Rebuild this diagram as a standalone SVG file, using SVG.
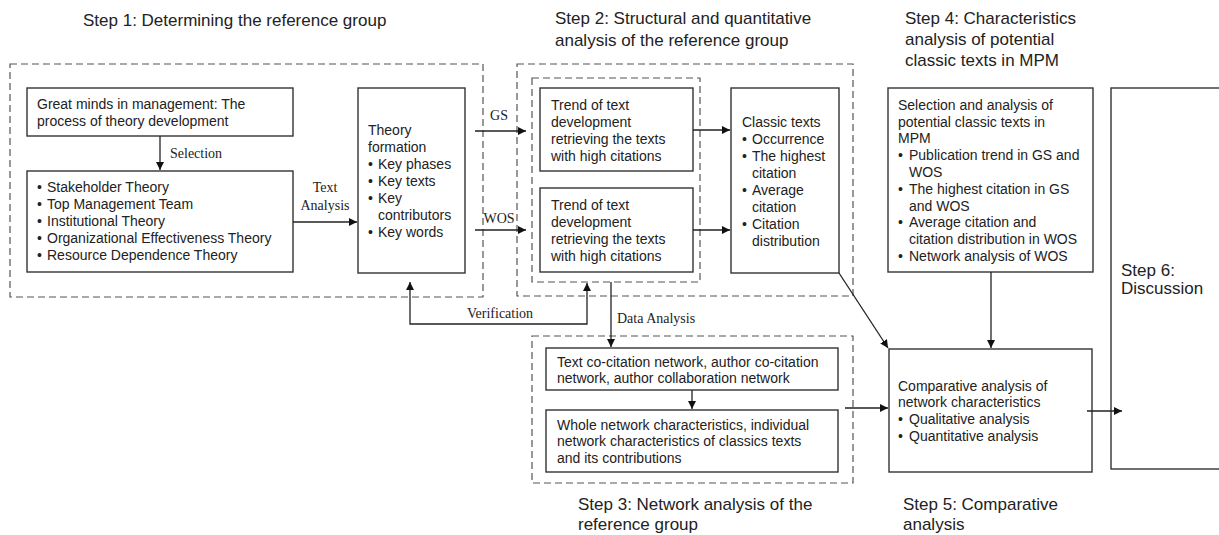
<svg xmlns="http://www.w3.org/2000/svg" width="1219" height="535" viewBox="0 0 1219 535">
<defs>
<marker id="ah" viewBox="0 0 10 10" refX="10" refY="5" markerWidth="8" markerHeight="8" markerUnits="userSpaceOnUse" orient="auto-start-reverse">
<path d="M0,0 L10,5 L0,10 Z" fill="#111"/>
</marker>
</defs>
<style>
.box{fill:#fff;stroke:#333;stroke-width:1.4}
.dash{fill:none;stroke:#555;stroke-width:1.2;stroke-dasharray:7,4}
.t{font-family:"Liberation Sans",Arial,sans-serif;font-size:14px;fill:#222}
.s{font-family:"Liberation Sans",Arial,sans-serif;font-size:17px;fill:#222}
.lab{font-family:"Liberation Serif","Times New Roman",serif;font-size:14px;fill:#222}
.c{fill:none;stroke:#222;stroke-width:1.3}
</style>
<rect width="1219" height="535" fill="#fff"/>

<g id="step-labels">
<text class="s" x="83" y="26">Step 1: Determining the reference group</text>
<text class="s" x="555" y="24">Step 2: Structural and quantitative</text>
<text class="s" x="555" y="46">analysis of the reference group</text>
<text class="s" x="905" y="24">Step 4: Characteristics</text>
<text class="s" x="905" y="45">analysis of potential</text>
<text class="s" x="905" y="66">classic texts in MPM</text>
<text class="s" x="578" y="510">Step 3: Network analysis of the</text>
<text class="s" x="578" y="530">reference group</text>
<text class="s" x="903" y="510">Step 5: Comparative</text>
<text class="s" x="903" y="530">analysis</text>
</g>

<g id="groups">
<rect class="dash" x="10" y="64" width="473" height="233"/>
<rect class="dash" x="517" y="64" width="336" height="232"/>
<rect class="dash" x="532" y="78" width="168" height="204"/>
<rect class="dash" x="532" y="336" width="321" height="147"/>
</g>

<g id="great-minds">
<rect class="box" x="27" y="88" width="266" height="48"/>
<text class="t" x="37" y="109">Great minds in management: The</text>
<text class="t" x="37" y="126">process of theory development</text>
</g>

<g id="theories">
<rect class="box" x="27" y="171" width="266" height="101"/>
<text class="t" x="37" y="192">•</text><text class="t" x="47" y="192">Stakeholder Theory</text>
<text class="t" x="37" y="209">•</text><text class="t" x="47" y="209">Top Management Team</text>
<text class="t" x="37" y="226">•</text><text class="t" x="47" y="226">Institutional Theory</text>
<text class="t" x="37" y="243">•</text><text class="t" x="47" y="243">Organizational Effectiveness Theory</text>
<text class="t" x="37" y="260">•</text><text class="t" x="47" y="260">Resource Dependence Theory</text>
</g>

<g id="theory-formation">
<rect class="box" x="358" y="88" width="107" height="185"/>
<text class="t" x="368" y="135">Theory</text>
<text class="t" x="368" y="152">formation</text>
<text class="t" x="368" y="169">•</text><text class="t" x="378" y="169">Key phases</text>
<text class="t" x="368" y="186">•</text><text class="t" x="378" y="186">Key texts</text>
<text class="t" x="368" y="203">•</text><text class="t" x="378" y="203">Key</text>
<text class="t" x="378" y="220">contributors</text>
<text class="t" x="368" y="237">•</text><text class="t" x="378" y="237">Key words</text>
</g>

<g id="trend-gs">
<rect class="box" x="540" y="88" width="153" height="83"/>
<text class="t" x="551" y="110">Trend of text</text>
<text class="t" x="551" y="127">development</text>
<text class="t" x="551" y="144">retrieving the texts</text>
<text class="t" x="551" y="161">with high citations</text>
</g>

<g id="trend-wos">
<rect class="box" x="540" y="188" width="153" height="84"/>
<text class="t" x="551" y="210">Trend of text</text>
<text class="t" x="551" y="227">development</text>
<text class="t" x="551" y="244">retrieving the texts</text>
<text class="t" x="551" y="261">with high citations</text>
</g>

<g id="classic-texts">
<rect class="box" x="731" y="88" width="108" height="185"/>
<text class="t" x="742" y="127">Classic texts</text>
<text class="t" x="742" y="144">•</text><text class="t" x="752" y="144">Occurrence</text>
<text class="t" x="742" y="161">•</text><text class="t" x="752" y="161">The highest</text>
<text class="t" x="752" y="178">citation</text>
<text class="t" x="742" y="195">•</text><text class="t" x="752" y="195">Average</text>
<text class="t" x="752" y="212">citation</text>
<text class="t" x="742" y="229">•</text><text class="t" x="752" y="229">Citation</text>
<text class="t" x="752" y="246">distribution</text>
</g>

<g id="potential-classics">
<rect class="box" x="888" y="88" width="205" height="184"/>
<text class="t" x="898" y="110">Selection and analysis of</text>
<text class="t" x="898" y="127">potential classic texts in</text>
<text class="t" x="898" y="143">MPM</text>
<text class="t" x="898" y="160">•</text><text class="t" x="909" y="160">Publication trend in GS and</text>
<text class="t" x="909" y="177">WOS</text>
<text class="t" x="898" y="194">•</text><text class="t" x="909" y="194">The highest citation in GS</text>
<text class="t" x="909" y="211">and WOS</text>
<text class="t" x="898" y="227">•</text><text class="t" x="909" y="227">Average citation and</text>
<text class="t" x="909" y="244">citation distribution in WOS</text>
<text class="t" x="898" y="261">•</text><text class="t" x="909" y="261">Network analysis of WOS</text>
</g>

<g id="discussion">
<rect class="box" x="1111" y="88" width="120" height="381"/>
<text class="s" x="1121" y="276">Step 6:</text>
<text class="s" x="1121" y="294">Discussion</text>
</g>

<g id="co-citation">
<rect class="box" x="546" y="348" width="292" height="42"/>
<text class="t" x="557" y="367">Text co-citation network, author co-citation</text>
<text class="t" x="557" y="383">network, author collaboration network</text>
</g>

<g id="whole-network">
<rect class="box" x="546" y="410" width="292" height="62"/>
<text class="t" x="557" y="430">Whole network characteristics, individual</text>
<text class="t" x="557" y="446">network characteristics of classics texts</text>
<text class="t" x="557" y="463">and its contributions</text>
</g>

<g id="comparative">
<rect class="box" x="889" y="349" width="203" height="123"/>
<text class="t" x="898" y="391">Comparative analysis of</text>
<text class="t" x="898" y="407">network characteristics</text>
<text class="t" x="898" y="424">•</text><text class="t" x="909" y="424">Qualitative analysis</text>
<text class="t" x="898" y="441">•</text><text class="t" x="909" y="441">Quantitative analysis</text>
</g>

<g id="connectors">
<line class="c" x1="160" y1="136" x2="160" y2="170" marker-end="url(#ah)"/>
<line class="c" x1="293" y1="222" x2="357" y2="222" marker-end="url(#ah)"/>
<line class="c" x1="475" y1="131" x2="526" y2="131" marker-end="url(#ah)"/>
<line class="c" x1="475" y1="230" x2="526" y2="230" marker-end="url(#ah)"/>
<line class="c" x1="693" y1="130" x2="730" y2="130" marker-end="url(#ah)"/>
<line class="c" x1="693" y1="230" x2="730" y2="230" marker-end="url(#ah)"/>
<line class="c" x1="839" y1="273" x2="888" y2="348" marker-end="url(#ah)"/>
<line class="c" x1="611" y1="282" x2="611" y2="347" marker-end="url(#ah)"/>
<polyline class="c" points="410,282 410,324 587,324 587,283" marker-start="url(#ah)" marker-end="url(#ah)"/>
<line class="c" x1="692" y1="390" x2="692" y2="409" marker-end="url(#ah)"/>
<line class="c" x1="845" y1="408" x2="888" y2="408" marker-end="url(#ah)"/>
<line class="c" x1="991" y1="272" x2="991" y2="348" marker-end="url(#ah)"/>
<line class="c" x1="1087" y1="411" x2="1122" y2="411" marker-end="url(#ah)"/>
<text class="lab" x="170" y="158">Selection</text>
<text class="lab" x="325" y="192" text-anchor="middle">Text</text>
<text class="lab" x="325" y="210" text-anchor="middle">Analysis</text>
<text class="lab" x="499" y="120" text-anchor="middle">GS</text>
<text class="lab" x="499" y="223" text-anchor="middle">WOS</text>
<text class="lab" x="467" y="318">Verification</text>
<text class="lab" x="617" y="323">Data Analysis</text>
</g>
</svg>
